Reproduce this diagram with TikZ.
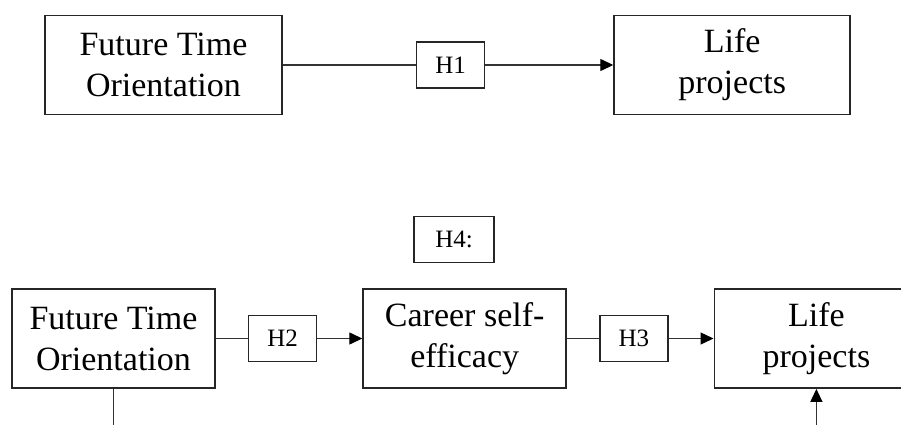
\documentclass[tikz,border=0pt]{standalone}
\usepackage{fontspec}
\setmainfont{Liberation Serif}
\usetikzlibrary{arrows.meta, positioning}

\begin{document}
\begin{tikzpicture}[x=0.5pt, y=-0.5pt, >={Triangle[length=6.5pt, width=6pt, color=black]},
  var/.style={draw=black!85, line width=0.9pt, minimum height=49.5pt, inner sep=0pt, align=center, font=\fontsize{17}{20.5}\selectfont},
  hyp/.style={draw=black!85, line width=0.7pt, minimum width=34pt, minimum height=23pt, inner sep=0pt, font=\fontsize{12.5}{14}\selectfont},
  link/.style={line width=0.65pt, black!80}]
  \useasboundingbox (0,0) rectangle (901,424);
  \clip (0,0) rectangle (901,424);

  % direct effect
  \node[var, minimum width=118.5pt] (fto1) at (163.5,65) {Future Time\\Orientation};
  \node[hyp, right=66.5pt of fto1] (h1) {H1};
  \node[var, minimum width=118pt, right=64pt of h1] (life1) {Life\\projects};
  \draw[link] (fto1) -- (h1);
  \draw[link, ->] (h1) -- (life1);

  % mediation
  \node[var, minimum width=101.5pt] (fto2) at (113.5,338.5) {Future Time\\Orientation};
  \node[hyp, right=16pt of fto2] (h2) {H2};
  \node[var, minimum width=101.5pt, right=22.5pt of h2] (cse) {Career self-\\efficacy};
  \node[hyp, right=16pt of cse] (h3) {H3};
  \node[var, minimum width=102pt, right=22.5pt of h3] (life2) {Life\\projects};
  \node[hyp, minimum width=40pt] (h4) at (454,239.5) {H4:};
  \coordinate (base) at (0,440);
  \draw[link] (fto2) -- (h2);
  \draw[link, ->] (h2) -- (cse);
  \draw[link] (cse) -- (h3);
  \draw[link, ->] (h3) -- (life2);
  \draw[link] (fto2.south) -- (fto2.south |- base);
  \draw[link, ->] (life2.south |- base) -- (life2.south);
\end{tikzpicture}
\end{document}
